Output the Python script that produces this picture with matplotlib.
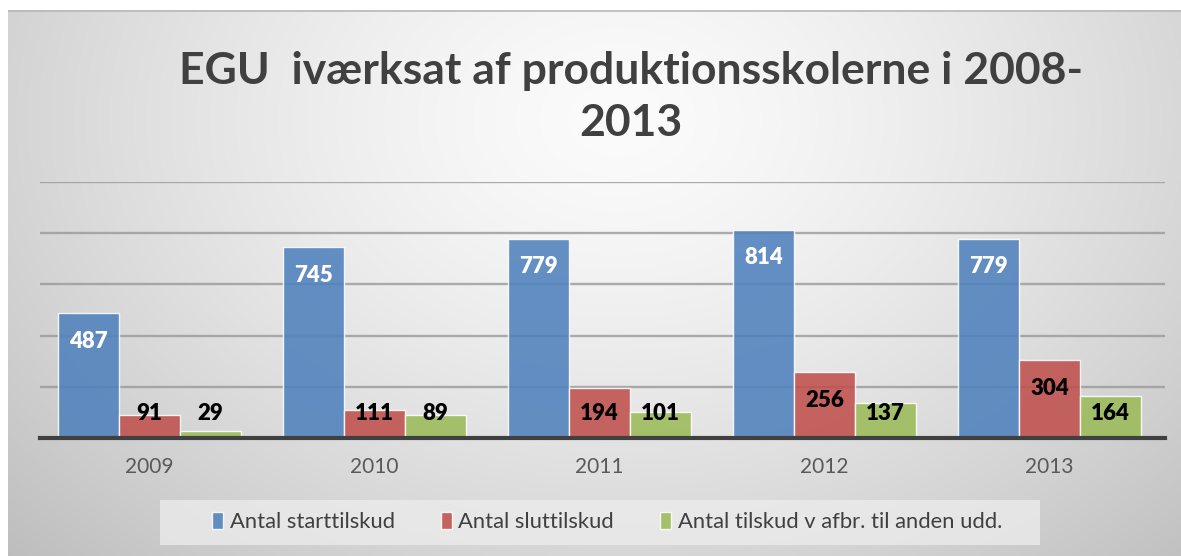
import numpy as np
import matplotlib
matplotlib.use("Agg")
import matplotlib.pyplot as plt
from matplotlib.patches import Patch, Rectangle

years = ["2009", "2010", "2011", "2012", "2013"]
series_names = ["Antal starttilskud", "Antal sluttilskud", "Antal tilskud v afbr. til anden udd."]
start = [487, 745, 779, 814, 779]
slut = [91, 111, 194, 256, 304]
andet = [29, 89, 101, 137, 164]
colors = ["#4F81BD", "#C0504D", "#9BBB59"]
label_colors = ["white", "black", "black"]
title = "EGU  iværksat af produktionsskolerne i 2008-\n2013"

plt.rcParams['font.family'] = ['Lato', 'DejaVu Sans']

W, H = 1181, 556
fig = plt.figure(figsize=(W / 100, H / 100), dpi=100)
fig.patch.set_facecolor("white")

# background gradient (chart area)
bg = fig.add_axes([8 / W, 0, 1 - 8 / W, (H - 10) / H], zorder=0)
gx = np.linspace(0, 1, 400)
gy = np.linspace(0, 1, 200)
X, Y = np.meshgrid(gx, gy)
d = np.sqrt(((X - 0.52) / 0.72) ** 2 + ((Y - 0.2) / 1.15) ** 2)
val = 0.985 - 0.24 * np.clip(d, 0, 1.0) ** 1.4
img = np.dstack([val, val, val])
bg.imshow(img, aspect="auto", extent=[0, 1, 1, 0], interpolation="bilinear")
bg.set_xlim(0, 1)
bg.set_ylim(1, 0)
bg.axis("off")
bg.plot([0, 1], [0.002, 0.002], color="#b8b8b8", lw=1.2)

ax = fig.add_axes([40 / W, (H - 438) / H, (1165 - 40) / W, (438 - 182) / H], zorder=1)
ax.patch.set_alpha(0)
x = np.arange(len(years))
bw = 0.271
data = [start, slut, andet]
for i, (vals, c, lc) in enumerate(zip(data, colors, label_colors)):
    pos = x + (i - 1) * bw
    ax.bar(pos, vals, width=bw, color=c, alpha=0.88, edgecolor=(1, 1, 1, 0.55),
           linewidth=1.0, zorder=3)
    for p, v in zip(pos, vals):
        ly = max(v - 109, 97)
        ax.text(p, ly, str(v), ha="center", va="center", color=lc,
                fontsize=16, fontweight="heavy", zorder=4)

ax.set_xlim(-0.487, 4.513)
ax.set_ylim(0, 1000)
ax.set_yticks([200, 400, 600, 800, 1000])
ax.yaxis.grid(True, color="#999999", lw=1.7, alpha=0.8, zorder=1)
ax.set_axisbelow(True)
ax.tick_params(axis="y", left=False, labelleft=False)
ax.tick_params(axis="x", length=0, pad=14, labelsize=15, labelcolor="#595959")
ax.set_xticks(x)
ax.set_xticklabels(years)
for s in ["top", "right", "left"]:
    ax.spines[s].set_visible(False)
ax.spines["bottom"].set_color("#404040")
ax.spines["bottom"].set_linewidth(3)
ax.spines["bottom"].set_zorder(5)

fig.text(631 / W, 1 - 97 / H, title, ha="center", va="center", fontsize=32,
         fontweight="bold", color="#404040", linespacing=1.36)

# legend box
fig.patches.append(Rectangle((160 / W, 1 - 545 / H), 880 / W, 45 / H,
                             transform=fig.transFigure, facecolor=(0.93, 0.93, 0.93),
                             alpha=0.75, edgecolor="none", zorder=1))
handles = [Patch(facecolor=c, alpha=0.88, edgecolor=(1, 1, 1, 0.6)) for c in colors]
leg = fig.legend(handles, series_names, loc="center", bbox_to_anchor=(607 / W, 1 - 522 / H),
                 ncol=3, frameon=False, fontsize=15.8, handlelength=0.5, handleheight=0.85,
                 handletextpad=0.3, columnspacing=2.1, borderpad=0.3,
                 borderaxespad=0)
for t in leg.get_texts():
    t.set_color("#404040")

fig.savefig("out.png", dpi=100)
